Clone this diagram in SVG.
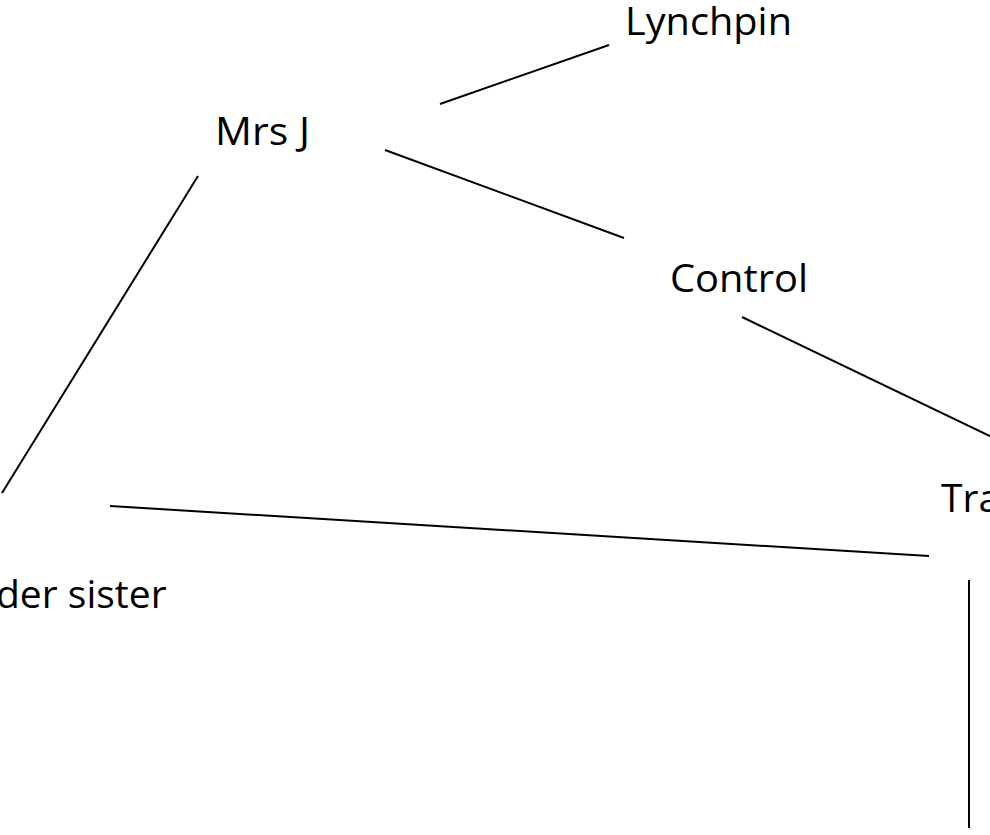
<svg xmlns="http://www.w3.org/2000/svg" width="990" height="835" viewBox="0 0 990 835">
<style>
.lbl{font-family:"Open Sans","Noto Sans","Liberation Sans",sans-serif;font-size:39px;fill:#000}
.edge{stroke:#000;stroke-width:2;fill:none}
</style>
<rect width="990" height="835" fill="#fff"/>
<g id="connectors">
<line class="edge" x1="440" y1="104" x2="609" y2="45"/>
<line class="edge" x1="385" y1="150" x2="624" y2="238"/>
<line class="edge" x1="198" y1="176" x2="2" y2="493"/>
<line class="edge" x1="742" y1="317" x2="992" y2="437"/>
<line class="edge" x1="110" y1="506" x2="929" y2="556"/>
<line class="edge" x1="969" y1="580" x2="969" y2="828"/>
</g>
<g id="lynchpin"><text class="lbl" x="625" y="35" textLength="167" lengthAdjust="spacingAndGlyphs">Lynchpin</text></g>
<g id="mrsj"><text class="lbl" x="215" y="145" textLength="95" lengthAdjust="spacingAndGlyphs">Mrs J</text></g>
<g id="control"><text class="lbl" x="670" y="292" textLength="138" lengthAdjust="spacingAndGlyphs">Control</text></g>
<g id="tra"><text class="lbl" x="941" y="512">Tra</text></g>
<g id="sister"><text class="lbl" x="-4" y="608">der sister</text></g>
</svg>
